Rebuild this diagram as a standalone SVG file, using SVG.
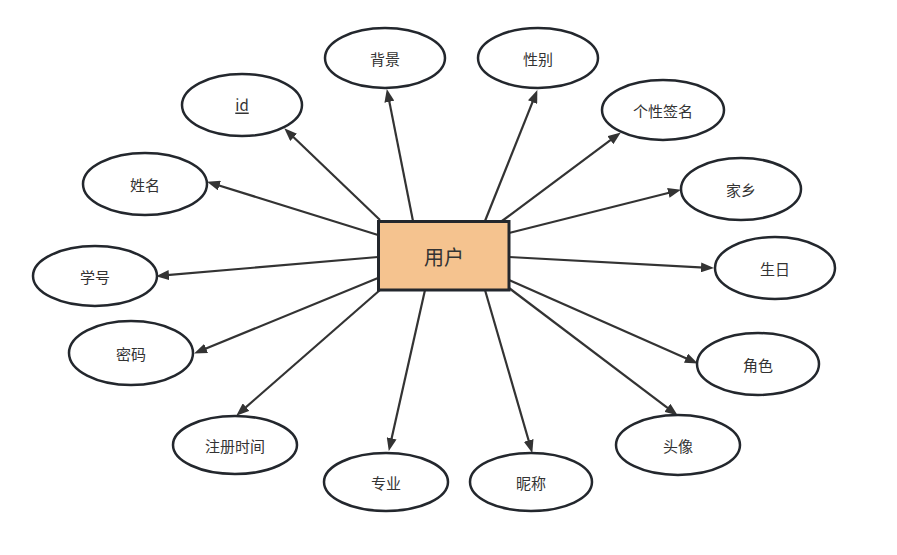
<svg xmlns="http://www.w3.org/2000/svg" width="897" height="555" viewBox="0 0 897 555">
<style>
.attr ellipse{fill:#ffffff;stroke:#23272d;stroke-width:2.5}
.attr text{font-family:"Noto Sans CJK SC","Liberation Sans",sans-serif;font-size:15px;fill:#333333;text-anchor:middle;dominant-baseline:central}
.conn line{stroke:#333333;stroke-width:2.2;marker-end:url(#arr)}
</style>
<defs>
<marker id="arr" markerUnits="userSpaceOnUse" markerWidth="13" markerHeight="10" viewBox="0 0 13 10" refX="8" refY="5" orient="auto">
<path d="M0,0 L13,5 L0,10 z" fill="#333333"/>
</marker>
</defs>
<rect width="897" height="555" fill="#ffffff"/>
<g id="connectors" class="conn">
<line x1="413" y1="221" x2="387.8" y2="93.9"/>
<line x1="485" y1="221" x2="535.5" y2="94.7"/>
<line x1="380" y1="220" x2="287.9" y2="131.8"/>
<line x1="502" y1="221" x2="616.8" y2="135.4"/>
<line x1="378" y1="235" x2="211.8" y2="183.2"/>
<line x1="509" y1="233" x2="676.1" y2="191"/>
<line x1="378" y1="257" x2="161" y2="275.7"/>
<line x1="509" y1="257" x2="709" y2="267.8"/>
<line x1="378" y1="278" x2="198.7" y2="351.5"/>
<line x1="509" y1="280" x2="693.3" y2="361.4"/>
<line x1="380" y1="290" x2="240" y2="412.4"/>
<line x1="509" y1="288" x2="673.8" y2="412.6"/>
<line x1="425" y1="290" x2="389.9" y2="446.1"/>
<line x1="485" y1="290" x2="530.9" y2="448.2"/>
</g>
<g id="user">
<rect x="378.5" y="221.5" width="130.5" height="68.5" fill="#f5c38f" stroke="#23272d" stroke-width="3"/>
<text x="444" y="256" font-family="Noto Sans CJK SC, Liberation Sans, sans-serif" font-size="20" fill="#333333" text-anchor="middle" dominant-baseline="central">用户</text>
</g>
<g id="beijing" class="attr"><ellipse cx="385" cy="58" rx="60" ry="30"/><text x="385" y="58">背景</text></g>
<g id="xingbie" class="attr"><ellipse cx="538" cy="58" rx="60" ry="30"/><text x="538" y="58">性别</text></g>
<g id="id" class="attr"><ellipse cx="242" cy="105" rx="60" ry="31"/><text x="242" y="104" text-decoration="underline">id</text></g>
<g id="qianming" class="attr"><ellipse cx="663" cy="110" rx="61" ry="30"/><text x="663" y="110">个性签名</text></g>
<g id="xingming" class="attr"><ellipse cx="145" cy="184" rx="62" ry="31"/><text x="145" y="184">姓名</text></g>
<g id="jiaxiang" class="attr"><ellipse cx="741" cy="189" rx="60" ry="31"/><text x="741" y="189">家乡</text></g>
<g id="xuehao" class="attr"><ellipse cx="95" cy="276" rx="62" ry="30"/><text x="95" y="276">学号</text></g>
<g id="shengri" class="attr"><ellipse cx="775" cy="268" rx="60" ry="31"/><text x="775" y="268">生日</text></g>
<g id="mima" class="attr"><ellipse cx="131" cy="353" rx="62" ry="32"/><text x="131" y="353">密码</text></g>
<g id="juese" class="attr"><ellipse cx="758" cy="364" rx="61" ry="31"/><text x="758" y="364">角色</text></g>
<g id="zhuceshijian" class="attr"><ellipse cx="235" cy="445" rx="62" ry="29"/><text x="235" y="445">注册时间</text></g>
<g id="touxiang" class="attr"><ellipse cx="678" cy="445" rx="62" ry="30"/><text x="678" y="445">头像</text></g>
<g id="zhuanye" class="attr"><ellipse cx="386" cy="482" rx="62" ry="29"/><text x="386" y="482">专业</text></g>
<g id="nicheng" class="attr"><ellipse cx="531" cy="482" rx="61" ry="29"/><text x="531" y="482">昵称</text></g>
</svg>
